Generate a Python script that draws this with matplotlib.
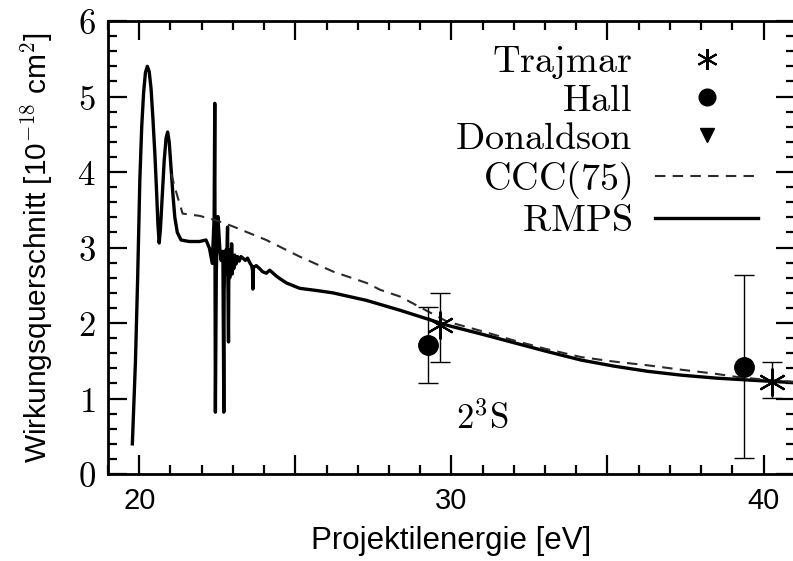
import matplotlib
matplotlib.use("Agg")
import matplotlib.pyplot as plt
from matplotlib.ticker import MultipleLocator, FixedLocator, FixedFormatter
from matplotlib.lines import Line2D

plt.rcParams['mathtext.fontset'] = 'cm'
plt.rcParams['font.family'] = ['Liberation Sans', 'DejaVu Sans']

# RMPS (solid)
rmps_x = [19.78, 19.88, 19.95, 20.02, 20.08, 20.14, 20.20, 20.26, 20.32, 20.38, 20.44, 20.50, 20.55,
          20.60, 20.64, 20.68, 20.74, 20.80, 20.86, 20.91, 20.96, 21.02, 21.08, 21.14, 21.22, 21.34,
          21.60, 21.93, 22.14, 22.25, 22.34, 22.40, 22.42, 22.43, 22.44, 22.47, 22.52, 22.58, 22.62,
          22.66, 22.68, 22.70, 22.71, 22.72, 22.74, 22.76, 22.78, 22.80, 22.81, 22.83, 22.84, 22.86,
          22.87, 22.88, 22.90, 22.91, 22.92, 22.94, 22.95, 22.96, 22.98, 23.00, 23.03, 23.06, 23.10,
          23.15, 23.20, 23.26, 23.32, 23.40, 23.47, 23.54, 23.60, 23.63, 23.64, 23.66, 23.75, 23.86,
          23.95, 24.07, 24.18, 24.29, 24.40, 24.50, 24.72, 25.14, 25.70, 26.20, 27.28, 28.35, 29.87,
          31.00, 32.00, 33.00, 34.15, 35.20, 36.30, 37.36, 38.50, 39.52, 40.58, 41.00]
rmps_y = [0.40, 1.50, 2.60, 3.90, 4.60, 5.05, 5.32, 5.40, 5.33, 5.10, 4.70, 4.25, 3.80,
          3.30, 3.06, 3.25, 3.70, 4.15, 4.45, 4.53, 4.40, 4.05, 3.70, 3.40, 3.20, 3.10,
          3.08, 3.08, 3.10, 2.99, 2.79, 3.40, 4.91, 2.40, 0.82, 2.70, 3.41, 3.00, 2.83,
          2.90, 2.95, 1.60, 0.82, 2.40, 2.90, 2.70, 2.97, 2.65, 2.95, 3.27, 2.60, 1.75,
          2.70, 2.95, 2.60, 2.90, 2.70, 2.98, 2.68, 3.05, 2.65, 2.85, 2.72, 2.90, 2.78,
          2.88, 2.82, 2.88, 2.86, 2.83, 2.86, 2.80, 2.76, 2.70, 2.45, 2.74, 2.76, 2.72,
          2.68, 2.66, 2.70, 2.66, 2.62, 2.59, 2.53, 2.46, 2.43, 2.40, 2.30, 2.17, 1.97,
          1.85, 1.74, 1.63, 1.51, 1.43, 1.36, 1.31, 1.27, 1.245, 1.22, 1.21]

# CCC(75) (dashed)
ccc_x = [21.02, 21.23, 21.39, 21.93, 22.47, 23.00, 24.07, 25.14, 26.22, 27.29, 27.72, 28.36,
         29.86, 31.00, 32.00, 33.00, 34.15, 35.20, 36.29, 37.40, 38.43, 39.07, 40.00, 41.00]
ccc_y = [3.98, 3.67, 3.45, 3.42, 3.36, 3.28, 3.10, 2.88, 2.68, 2.53, 2.44, 2.35,
         2.02, 1.89, 1.77, 1.66, 1.55, 1.49, 1.44, 1.38, 1.33, 1.29, 1.25, 1.22]

# Experimental data
trajmar_x = [29.65, 40.26]
trajmar_y = [1.97, 1.22]
trajmar_lo = [1.48, 1.01]
trajmar_hi = [2.40, 1.48]

hall_x = [29.26, 39.36]
hall_y = [1.71, 1.42]
hall_lo = [1.20, 0.21]
hall_hi = [2.21, 2.64]

donaldson_x = [22.85]
donaldson_y = [2.82]

fig = plt.figure(figsize=(7.93, 5.61), dpi=100)
ax = fig.add_axes([0.1362, 0.155, 0.866, 0.8075])

ax.plot(rmps_x, rmps_y, color='black', lw=2.4, solid_joinstyle='round')
ax.plot(ccc_x, ccc_y, color='#2a2a2a', lw=1.5, ls=(0, (5, 3.5)))

ax.errorbar(trajmar_x, trajmar_y,
            yerr=[[a - b for a, b in zip(trajmar_y, trajmar_lo)], [b - a for a, b in zip(trajmar_y, trajmar_hi)]],
            fmt='none', ecolor='black', elinewidth=1.0, capsize=7, capthick=1.0)
ax.plot(trajmar_x, trajmar_y, ls='none', marker=(6, 2, 0), ms=20, mew=1.6, color='black')
ax.errorbar(hall_x, hall_y,
            yerr=[[a - b for a, b in zip(hall_y, hall_lo)], [b - a for a, b in zip(hall_y, hall_hi)]],
            fmt='none', ecolor='black', elinewidth=1.0, capsize=7, capthick=1.0)
ax.plot(hall_x, hall_y, ls='none', marker='o', ms=14, color='black')
ax.plot(donaldson_x, donaldson_y, ls='none', marker='v', ms=9, color='black')

ax.set_xlim(19, 41)
ax.set_ylim(0, 6)

ax.xaxis.set_major_locator(FixedLocator([20, 25, 30, 35, 40]))
ax.xaxis.set_major_formatter(FixedFormatter(['20', '', '30', '', '40']))
ax.xaxis.set_minor_locator(MultipleLocator(1))
ax.yaxis.set_major_locator(FixedLocator([0, 1, 2, 3, 4, 5, 6]))
ax.yaxis.set_major_formatter(FixedFormatter([r'$%d$' % v for v in range(7)]))
ax.yaxis.set_minor_locator(MultipleLocator(0.2))

ax.tick_params(which='both', direction='in', top=True, right=True, width=1.6)
ax.tick_params(which='major', length=14)
ax.tick_params(which='minor', length=6.5)
ax.tick_params(axis='x', labelsize=21, pad=9)
ax.tick_params(axis='y', labelsize=25, pad=9)
for s in ax.spines.values():
    s.set_linewidth(2.0)

ax.set_xlabel('Projektilenergie [eV]', fontsize=22.5, labelpad=8)
ax.set_ylabel('Wirkungsquerschnitt [10$^{\\mathsf{-18}}$ cm$^{\\mathsf{2}}$]', fontsize=21.5, labelpad=16)

ax.text(31.0, 0.73, r'$2^3\mathrm{S}$', fontsize=25, ha='center', va='center')

handles = [Line2D([], [], ls='none', marker=(6, 2, 0), ms=15, mew=1.5, color='black'),
           Line2D([], [], ls='none', marker='o', ms=12, color='black'),
           Line2D([], [], ls='none', marker='v', ms=10, color='black'),
           Line2D([], [], color='#2a2a2a', lw=1.5, ls=(0, (5, 3.5))),
           Line2D([], [], color='black', lw=2.4)]
labels = [r'$\mathrm{Trajmar}$', r'$\mathrm{Hall}$', r'$\mathrm{Donaldson}$',
          r'$\mathrm{CCC(75)}$', r'$\mathrm{RMPS}$']
ax.legend(handles, labels, loc='upper right', frameon=False, markerfirst=False,
          fontsize=27.5, handlelength=2.7, handletextpad=0.6, labelspacing=0.05,
          bbox_to_anchor=(0.98, 1.0), borderaxespad=0.2)

fig.savefig('out.png', dpi=100)
